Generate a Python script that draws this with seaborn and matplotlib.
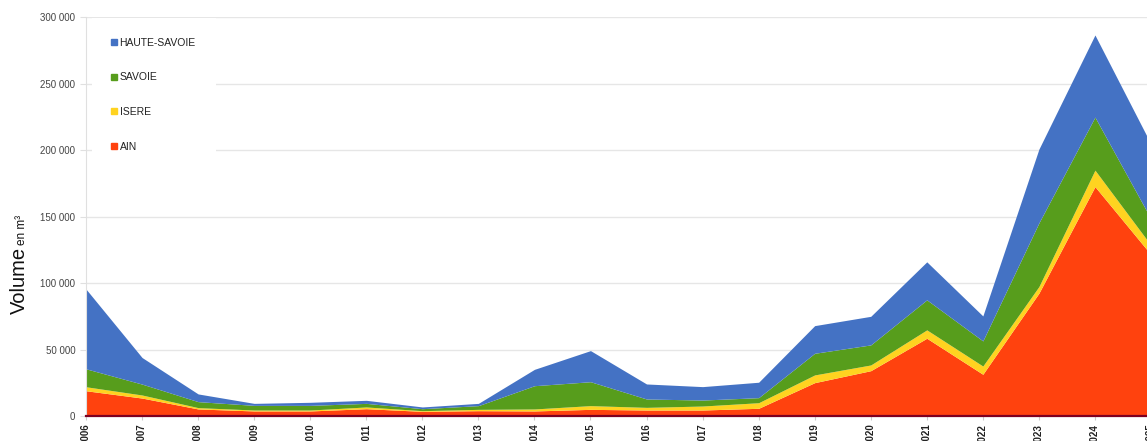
import pandas as pd
import matplotlib.pyplot as plt
import seaborn as sns
from matplotlib.lines import Line2D
from matplotlib.ticker import FuncFormatter

# ------------------ Données (volumes en m3 par département) ------------------
years = list(range(2006, 2026))
ain = [19000, 13500, 5300, 3800, 3800, 5500, 3500, 4000, 3800, 5000,
       4500, 4500, 5800, 25100, 34100, 58500, 31400, 92400, 172600, 121400]
isere = [3000, 2300, 1000, 700, 700, 1300, 500, 1000, 1500, 2800,
         2000, 3000, 4200, 5800, 4300, 6300, 6200, 5000, 12400, 7100]
savoie = [13500, 8200, 4500, 3500, 3500, 2700, 1500, 2800, 17500, 18000,
          6300, 4500, 3800, 16300, 15100, 22600, 18900, 47900, 39900, 19800]
haute_savoie = [60000, 20000, 5800, 1500, 2300, 2300, 1300, 1700, 12300, 23400,
                11300, 10100, 11600, 20800, 21500, 28600, 18800, 55500, 61800, 56300]

series = ['AIN', 'ISERE', 'SAVOIE', 'HAUTE-SAVOIE']
colors = ['#ff420e', '#ffd320', '#579d1c', '#4472c4']

df = pd.DataFrame({'year': years, 'AIN': ain, 'ISERE': isere,
                   'SAVOIE': savoie, 'HAUTE-SAVOIE': haute_savoie})

sns.set_theme(style="white")
plt.rcParams['font.family'] = ['Liberation Sans', 'DejaVu Sans']

W, H = 1147, 441
fig = plt.figure(figsize=(W / 100, H / 100), dpi=100)
ax = fig.add_axes([86 / W, 25 / H, (1151 - 86) / W, (416 - 17.3) / H])

ax.stackplot(df['year'], *[df[s] for s in series], colors=colors, linewidth=0, zorder=2)

ax.set_xlim(2006, 2025)
ax.set_ylim(0, 300000)
ax.set_yticks(range(0, 300001, 50000))
ax.yaxis.set_major_formatter(FuncFormatter(lambda v, p: f"{int(v):,}".replace(",", " ")))
ax.set_xticks(years)
ax.set_xticklabels([str(y) for y in years], rotation=90, fontsize=7,
                   fontweight='bold', color='#222222')

ax.grid(axis='y', color='#e6e6e6', linewidth=1, zorder=0)
ax.set_axisbelow(True)
ax.tick_params(axis='y', left=True, length=4, width=0.8, color='#e0e0e0', pad=3.6,
               labelsize=7, labelcolor='#444444')
ax.tick_params(axis='x', bottom=True, length=3, width=0.8, color='#cccccc', pad=2.5)

for s in ['top', 'right']:
    ax.spines[s].set_visible(False)
ax.spines['left'].set_color('#e0e0e0')
ax.spines['left'].set_linewidth(0.8)
ax.spines['bottom'].set_color('#7e0021')
ax.spines['bottom'].set_linewidth(1.6)
ax.spines['bottom'].set_zorder(3)

# Légende (ordre inversé, comme l'empilement)
handles = [Line2D([], [], marker='s', linestyle='none', markersize=3.8, color=c)
           for c in colors[::-1]]
leg = ax.legend(handles, series[::-1], loc='upper left',
                bbox_to_anchor=(92 / W, 1 - 18 / H), bbox_transform=fig.transFigure,
                borderaxespad=0, borderpad=1.9, labelspacing=2.36, handlelength=0.5,
                handletextpad=0.25, fontsize=7.5, frameon=True, facecolor='white',
                edgecolor='none', framealpha=1, fancybox=False)
for t in leg.get_texts():
    t.set_color('#222222')

# Titre de l'axe Y : "Volume" + "en m³" en petit
fig.text(25 / W, 1 - 314 / H, 'Volume', rotation=90, rotation_mode='anchor',
         ha='left', va='baseline', fontsize=14.5, color='#111111')
fig.text(25 / W, 1 - 245 / H, 'en m³', rotation=90, rotation_mode='anchor',
         ha='left', va='baseline', fontsize=8.5, color='#111111')

fig.savefig('out.png', dpi=100)
